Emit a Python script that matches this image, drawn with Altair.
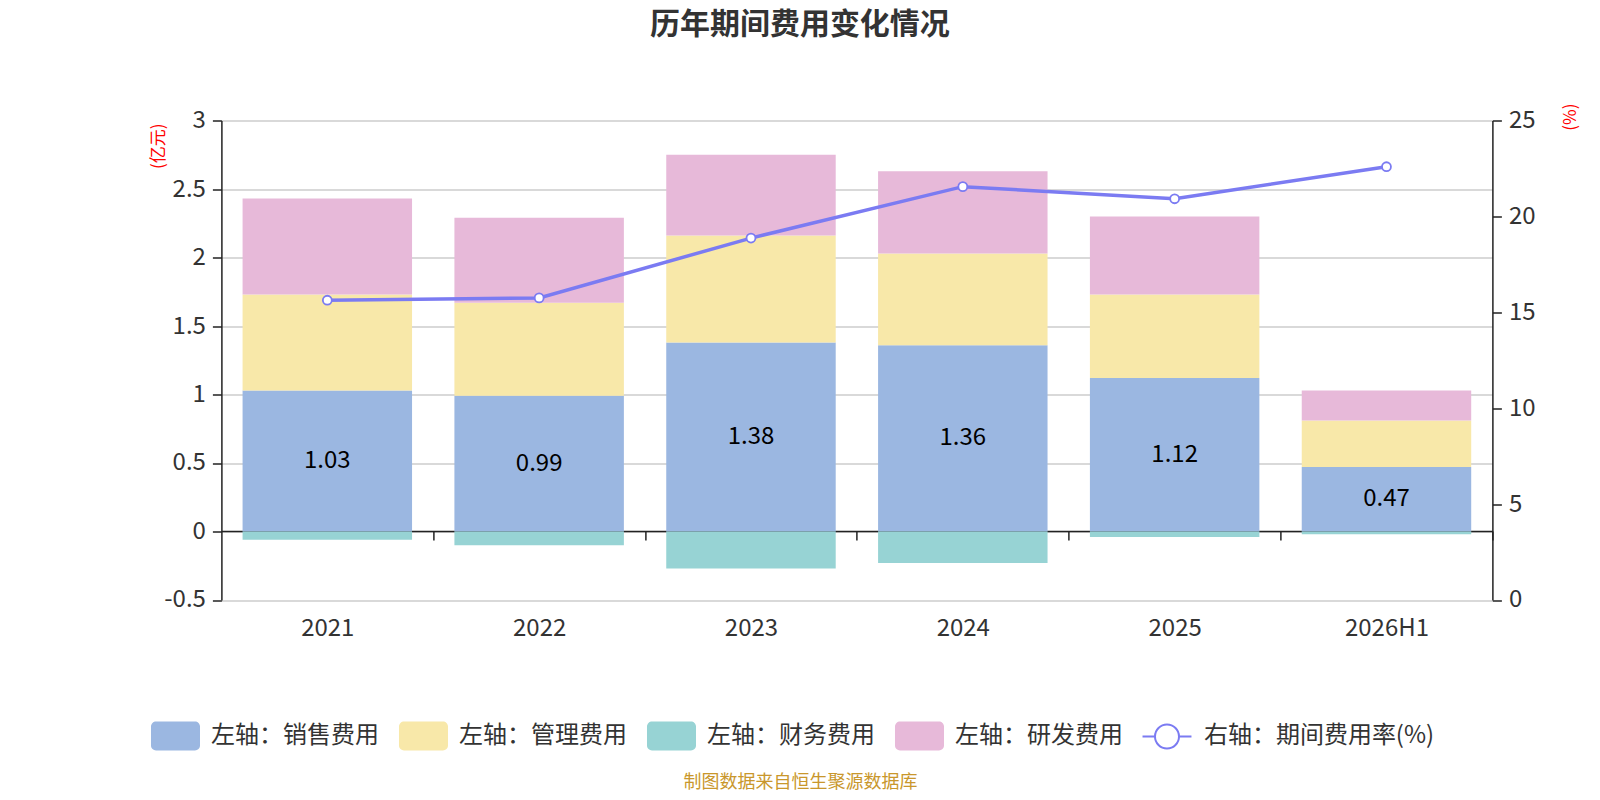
import altair as alt
import pandas as pd

years = ["2021", "2022", "2023", "2024", "2025", "2026H1"]
sales = [1.03, 0.99, 1.38, 1.36, 1.12, 0.47]
admin = [0.70, 0.68, 0.78, 0.67, 0.61, 0.34]
finance = [-0.06, -0.10, -0.27, -0.23, -0.04, -0.02]
rd = [0.70, 0.62, 0.59, 0.60, 0.57, 0.22]
rate = [15.63, 15.75, 18.87, 21.55, 20.92, 22.59]

series_names = ["左轴：销售费用", "左轴：管理费用", "左轴：财务费用", "左轴：研发费用"]
series_colors = ["#9BB7E1", "#F8E8A9", "#97D3D4", "#E7B9D9"]
line_name = "右轴：期间费用率(%)"
line_color = "#7B7BF2"

FONT = "Noto Sans CJK SC"
HALF_STEP = 1271 / 6 / 2

rows = []
for i, y in enumerate(years):
    for k, vals in enumerate([sales, admin, finance, rd]):
        rows.append({"year": y, "series": series_names[k], "value": vals[i], "ord": k})
bar_df = pd.DataFrame(rows)
sales_df = pd.DataFrame({"year": years, "sales": sales})
line_df = pd.DataFrame({"year": years, "rate": rate, "lname": [line_name] * len(years)})

rect_path = ("M-1.34,-1H1.34A0.345,0.345,0,0,1,1.69,-0.655V0.655"
             "A0.345,0.345,0,0,1,1.34,1H-1.34A0.345,0.345,0,0,1,-1.69,0.655"
             "V-0.655A0.345,0.345,0,0,1,-1.34,-1Z")
line_path = "M-2.04,0L-1,0M1,0L2.04,0M1,0A1,1,0,1,1,-1,0A1,1,0,1,1,1,0Z"

x_enc = alt.X(
    "year:N", sort=years,
    scale=alt.Scale(paddingInner=0.2, paddingOuter=0.1),
    axis=alt.Axis(
        title="制图数据来自恒生聚源数据库",
        titleColor="#C9972C", titleFont=FONT, titleFontSize=18, titleFontWeight="normal",
        titleX=578.6, titleY=252, titleAlign="center", titleBaseline="middle", titleAngle=0,
        offset=-69, domainColor="#222222", domainWidth=1.5,
        tickOffset=HALF_STEP, labelOffset=-HALF_STEP,
        tickColor="#222222", tickSize=9, tickWidth=1.5,
        labelFont=FONT, labelFontSize=24, labelColor="#333333", labelPadding=77,
        labelAngle=0, grid=False,
    ),
)

bars = alt.Chart(bar_df).mark_bar().encode(
    x=x_enc,
    y=alt.Y(
        "value:Q", stack="zero",
        scale=alt.Scale(domain=[-0.5, 3], nice=False, zero=False),
        axis=alt.Axis(
            values=[-0.5, 0, 0.5, 1, 1.5, 2, 2.5, 3], labelExpr="'' + datum.value",
            title="(亿元)", titleColor="#FF0000", titleFont=FONT, titleFontSize=17,
            titleFontWeight="normal", titleAngle=270, titleX=-62.7, titleY=2.5,
            titleAlign="right", titleBaseline="middle",
            domainColor="#222222", domainWidth=1.5, tickColor="#222222", tickSize=9,
            tickWidth=1.5, labelFont=FONT, labelFontSize=24, labelColor="#333333",
            labelPadding=7, gridColor="#CCCCCC", gridWidth=1.5,
        ),
    ),
    color=alt.Color(
        "series:N",
        scale=alt.Scale(domain=series_names, range=series_colors),
        legend=alt.Legend(
            title=None, orient="none", legendX=-70.4, legendY=600.5, direction="horizontal",
            columns=4, symbolType=rect_path, symbolSize=841, symbolStrokeWidth=0,
            symbolOffset=10, labelOffset=21, columnPadding=19, labelLimit=400,
            labelFont=FONT, labelFontSize=24, labelColor="#333333",
        ),
    ),
    order=alt.Order("ord:Q"),
)

labels = alt.Chart(sales_df).transform_calculate(mid="datum.sales / 2").mark_text(
    font=FONT, fontSize=24, color="#000000", baseline="middle"
).encode(
    x=alt.X("year:N", sort=years),
    y=alt.Y("mid:Q"),
    text=alt.Text("sales:Q", format=".2f"),
)

left = alt.layer(bars, labels)

line = alt.Chart(line_df).mark_line(
    strokeWidth=3.5,
    point=alt.OverlayMarkDef(filled=True, fill="#FFFFFF", size=80, strokeWidth=1.8,
                             stroke=line_color, opacity=1),
).encode(
    x=alt.X("year:N", sort=years),
    y=alt.Y(
        "rate:Q",
        scale=alt.Scale(domain=[0, 25], nice=False),
        axis=alt.Axis(
            orient="right", values=[0, 5, 10, 15, 20, 25],
            title="(%)", titleColor="#FF0000", titleFont=FONT, titleFontSize=17,
            titleFontWeight="normal", titleAngle=270, titleX=78, titleY=-17.5,
            titleAlign="right", titleBaseline="middle",
            domainColor="#222222", domainWidth=1.5, tickColor="#222222", tickSize=9,
            tickWidth=1.5, labelFont=FONT, labelFontSize=24, labelColor="#333333",
            labelPadding=7, grid=False,
        ),
    ),
    stroke=alt.Stroke(
        "lname:N",
        scale=alt.Scale(domain=[line_name], range=[line_color]),
        legend=alt.Legend(
            title=None, orient="none", legendX=920.6, legendY=603, direction="horizontal",
            symbolType=line_path, symbolSize=576, symbolStrokeWidth=2,
            symbolFillColor="#FFFFFF", symbolOffset=12, labelOffset=24, labelLimit=400,
            labelFont=FONT, labelFontSize=24, labelColor="#333333",
        ),
    ),
)

chart = alt.layer(left, line).resolve_scale(y="independent").properties(
    width=1271,
    height=479.5,
    autosize=alt.AutoSizeParams(type="none"),
    padding={"left": 213.4, "top": 112.5, "right": 90, "bottom": 192},
    title=alt.TitleParams(
        "历年期间费用变化情况", font=FONT, fontSize=30, fontWeight="bold",
        color="#333333", anchor="middle", dx=-57, offset=63,
    ),
).configure_view(stroke=None)

chart.save("out.html", embed_options={"renderer": "svg", "actions": False})
